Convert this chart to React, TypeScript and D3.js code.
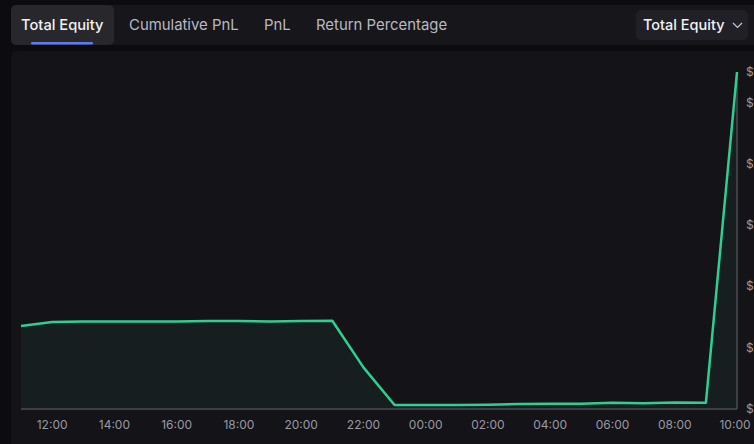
import { useMemo } from 'react';
import * as d3 from 'd3';

// hourly snapshots, 11:00 day 1 -> 10:00 day 2
const times = [
    '11:00', '12:00', '13:00', '14:00', '15:00', '16:00', '17:00', '18:00',
    '19:00', '20:00', '21:00', '22:00', '23:00', '00:00', '01:00', '02:00',
    '03:00', '04:00', '05:00', '06:00', '07:00', '08:00', '09:00', '10:00',
];
const equity = [
    271, 284, 286, 286, 286, 286, 287, 287,
    286, 287, 288, 136, 13, 13, 13, 14,
    16, 17, 17, 20, 19, 21, 20, 1100,
];
const yTicks = [0, 200, 400, 600, 800, 1000, 1100];
const tabs = ['Total Equity', 'Cumulative PnL', 'PnL', 'Return Percentage'];

const W = 754;
const H = 444;
const FONT = 'Inter, "Noto Sans", sans-serif';

function toDate(t: string, i: number) {
    const [h, m] = t.split(':').map(Number);
    // first 13 points are on day 1, the rest roll over midnight
    const day = i >= 13 ? 2 : 1;
    return new Date(2024, 0, day, h, m);
}

export default function App() {
    const data = useMemo(() => times.map((t, i) => ({ date: toDate(t, i), value: equity[i] })), []);

    const plot = { left: 21, right: 737, top: 72, bottom: 409 };

    const x = d3.scaleTime()
        .domain(d3.extent(data, d => d.date) as [Date, Date])
        .range([plot.left, plot.right]);
    const y = d3.scaleLinear()
        .domain([0, 1100])
        .range([plot.bottom, plot.top]);

    const line = d3.line<{ date: Date; value: number }>()
        .x(d => x(d.date))
        .y(d => y(d.value));
    const area = d3.area<{ date: Date; value: number }>()
        .x(d => x(d.date))
        .y0(plot.bottom)
        .y1(d => y(d.value));

    const xTicks = x.ticks(d3.timeHour.every(2)!);
    const fmtX = d3.timeFormat('%H:%M');
    const fmtY = d3.format('$,.2f');

    // tab x positions
    const tabX = [21, 129, 264, 316];

    return (
        <div style={{ position: 'fixed', left: 0, top: 0, width: W, height: H, overflow: 'hidden', background: '#0c0c10' }}>
            <svg width={W} height={H} style={{ display: 'block', fontFamily: FONT }}>
                <rect x={0} y={0} width={W} height={H} fill="#0c0c10" />

                {/* tab strip */}
                <rect x={11} y={5} width={760} height={40} rx={5} fill="#16161b" />
                <rect x={11} y={5} width={103} height={40} rx={5} fill="#27272c" />
                <rect x={31} y={42} width={62} height={2.5} rx={1.2} fill="#5b7cf0" />
                {tabs.map((t, i) => (
                    <text key={t} x={tabX[i]} y={30} fontSize={i === 0 ? 14.7 : 14.9} fontWeight={i === 0 ? 500 : 400}
                        fill={i === 0 ? '#f2f2f5' : '#b9b9c2'}>{t}</text>
                ))}

                {/* metric dropdown */}
                <rect x={636} y={10} width={112} height={30} rx={5} fill="#202026" />
                <text x={643} y={30} fontSize={14.5} fontWeight={500} fill="#f2f2f5">Total Equity</text>
                <path d="M733,23 L737.5,27.5 L742,23" fill="none" stroke="#c8c8d0" strokeWidth={1.2} />

                {/* chart panel */}
                <rect x={11} y={51} width={760} height={410} rx={6} fill="#131318" />

                <path d={area(data) ?? ''} fill="#161e20" />
                <line x1={plot.left} x2={plot.right} y1={plot.bottom} y2={plot.bottom} stroke="#4c4c52" strokeWidth={1.5} />
                <line x1={plot.right} x2={plot.right} y1={plot.top} y2={plot.bottom} stroke="#4c4c52" strokeWidth={1.5} />
                <path d={line(data) ?? ''} fill="none" stroke="#2fd08f" strokeWidth={2.5} strokeLinejoin="round" />

                {xTicks.map(t => (
                    <text key={+t} x={Math.min(x(t), 735)} y={429} fontSize={12} fill="#9a9aa2" textAnchor="middle">
                        {fmtX(t)}
                    </text>
                ))}
                {/* value labels sit past the panel edge and are clipped there, as in the source */}
                {yTicks.map(v => (
                    <text key={v} x={746} y={y(v) + 4} fontSize={12} fill="#9a9aa2">{fmtY(v)}</text>
                ))}
            </svg>
        </div>
    );
}
